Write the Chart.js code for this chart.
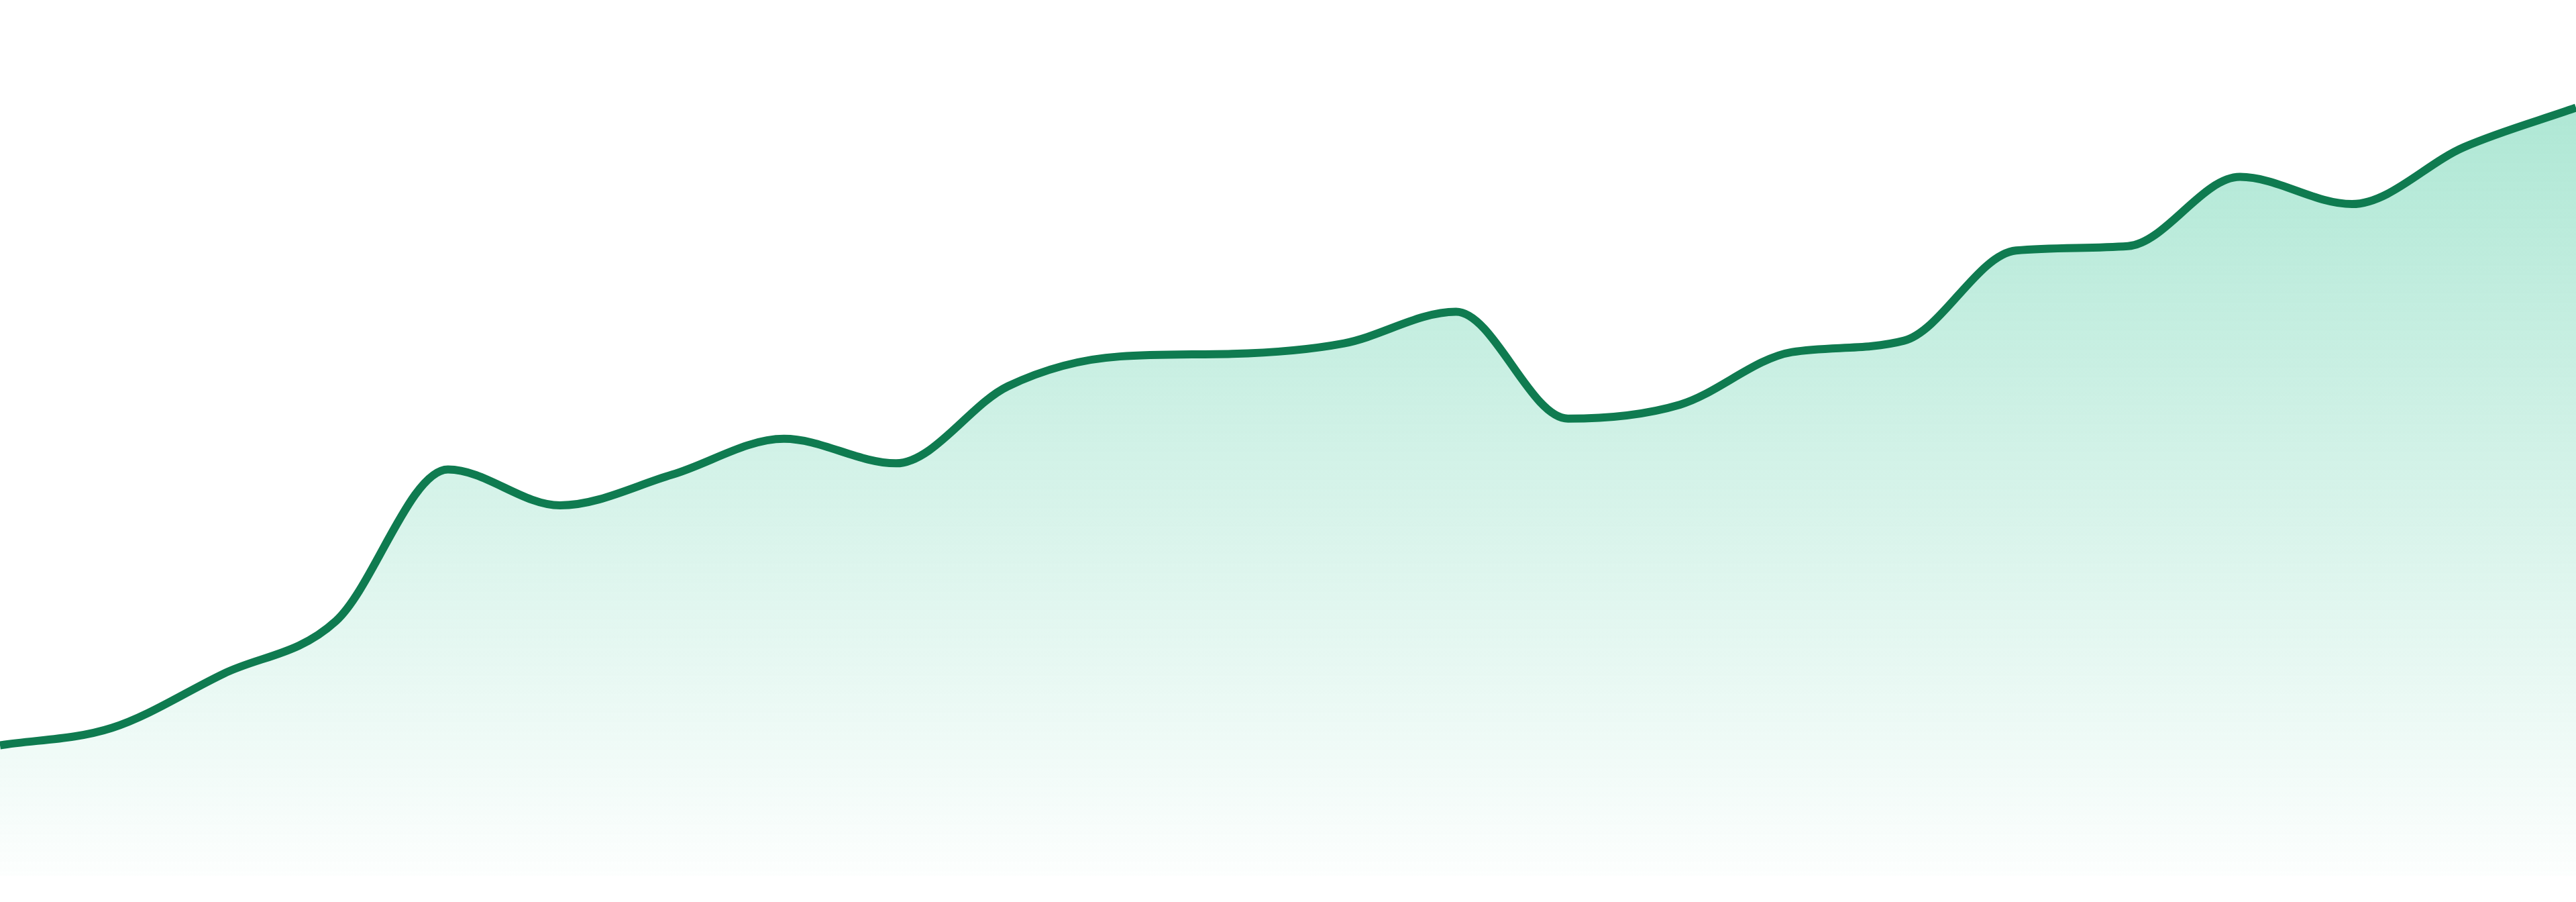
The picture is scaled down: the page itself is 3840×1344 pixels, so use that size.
<!DOCTYPE html>
<html lang="en">
<head>
  <meta charset="UTF-8">
  <title>Trend</title>
  <script src="https://cdn.jsdelivr.net/npm/chart.js"></script>
  <style>
    html, body {
      margin: 0;
      padding: 0;
      background: #fff;
    }
    .wrap {
      width: 3840px;
      height: 1344px;
      position: relative;
    }
  </style>
</head>
<body>
  <div class="wrap">
    <canvas id="trendChart"></canvas>
  </div>

  <script>
    // values, one per period
    var labels = ['1', '2', '3', '4', '5', '6', '7', '8', '9', '10', '11', '12',
                  '13', '14', '15', '16', '17', '18', '19', '20', '21', '22', '23', '24'];
    var values = [14.9, 16.9, 23.1, 29.1, 46.4, 42.3, 45.8, 49.9, 47.1, 55.9, 59.3, 59.6,
                  60.8, 64.4, 52.2, 53.8, 59.8, 61.1, 71.4, 71.9, 79.8, 76.7, 83.2, 87.7];

    var yMin = 0;
    var yMax = 100;

    var lineColor = '#0f7b50';

    function fillGradient(context) {
      var chart = context.chart;
      var area = chart.chartArea;
      if (!area) return 'rgba(16, 185, 129, 0.2)';
      var g = chart.ctx.createLinearGradient(0, area.top, 0, area.bottom);
      g.addColorStop(0, 'rgba(16, 185, 129, 0.38)');
      g.addColorStop(1, 'rgba(16, 185, 129, 0.01)');
      return g;
    }

    var ctx = document.getElementById('trendChart').getContext('2d');

    var trendChart = new Chart(ctx, {
      type: 'line',
      data: {
        labels: labels,
        datasets: [{
          data: values,
          borderColor: lineColor,
          borderWidth: 12,
          backgroundColor: fillGradient,
          fill: 'start',
          cubicInterpolationMode: 'monotone',
          pointRadius: 0,
          pointHoverRadius: 0
        }]
      },
      options: {
        responsive: true,
        maintainAspectRatio: false,
        devicePixelRatio: 1,
        animation: false,
        layout: {
          padding: { top: 0, right: 0, bottom: 39, left: 0 }
        },
        plugins: {
          legend: { display: false },
          tooltip: { enabled: false }
        },
        scales: {
          x: { display: false, offset: false },
          y: { display: false, min: yMin, max: yMax }
        }
      }
    });
  </script>
</body>
</html>
